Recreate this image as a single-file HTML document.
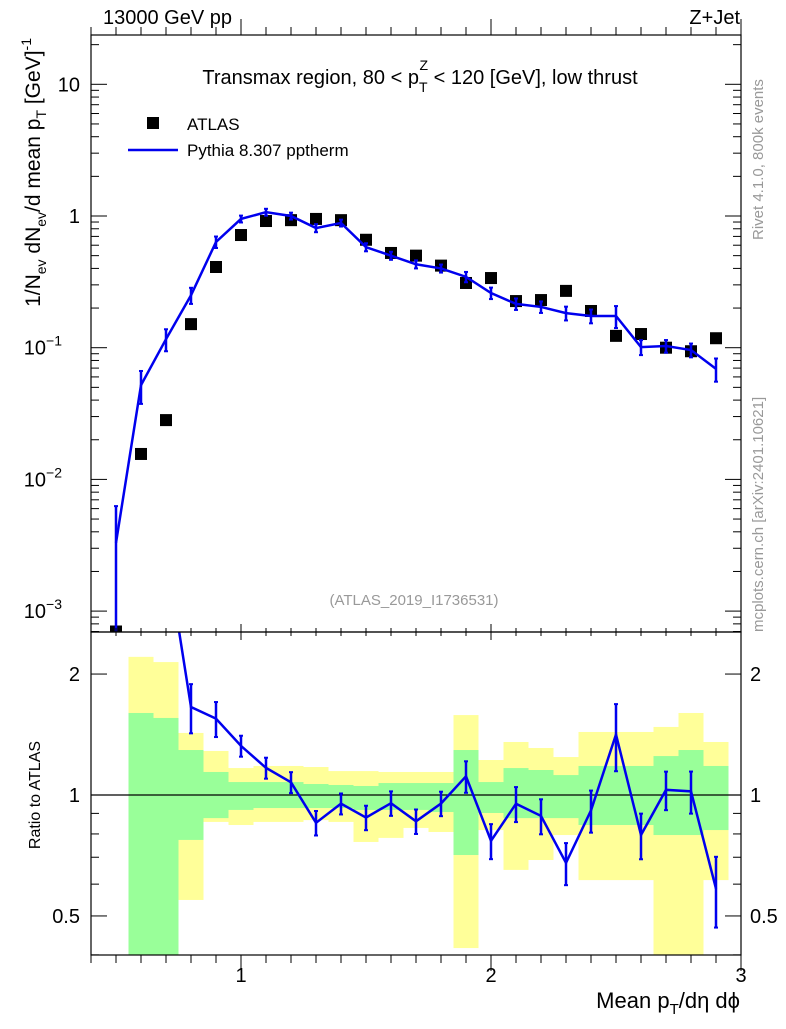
<!DOCTYPE html>
<html><head><meta charset="utf-8"><style>
body{margin:0;background:#fff;font-family:"Liberation Sans",sans-serif}
svg text{font-family:"Liberation Sans","DejaVu Sans",sans-serif}
</style></head><body>
<svg id="c" width="786" height="1024" xmlns="http://www.w3.org/2000/svg"></svg>
<script>
const xs=[0.5,0.6,0.7,0.8,0.9,1.0,1.1,1.2,1.3,1.4,1.5,1.6,1.7,1.8,1.9,2.0,2.1,2.2,2.3,2.4,2.5,2.6,2.7,2.8,2.9];
const dataVals=[0.0007,0.0156,0.0282,0.151,0.41,0.717,0.916,0.93,0.95,0.93,0.66,0.524,0.50,0.42,0.31,0.338,0.226,0.23,0.27,0.19,0.123,0.127,0.10,0.094,0.118];
const mcVals=[0.0033,0.052,0.116,0.25,0.635,0.95,1.07,1.0,0.81,0.885,0.58,0.50,0.43,0.40,0.345,0.26,0.215,0.204,0.183,0.174,0.174,0.101,0.103,0.096,0.069];
const mcRelErr=[0.9,0.28,0.19,0.14,0.1,0.06,0.06,0.06,0.07,0.06,0.07,0.07,0.07,0.07,0.09,0.1,0.1,0.1,0.12,0.12,0.19,0.13,0.11,0.12,0.2];
const yelUp=[null,2.207,2.142,1.427,1.287,1.167,1.181,1.181,1.174,1.147,1.147,1.141,1.141,1.141,1.581,1.222,1.355,1.309,1.243,1.435,1.435,1.435,1.477,1.6,1.355];
const yelLo=[null,0.3,0.475,0.548,0.857,0.842,0.857,0.857,0.866,0.857,0.764,0.782,0.828,0.809,0.416,0.818,0.651,0.689,0.795,0.614,0.614,0.614,0.35,0.35,0.614];
const grnUp=[null,1.6,1.555,1.294,1.141,1.077,1.077,1.077,1.065,1.059,1.053,1.071,1.071,1.071,1.294,1.077,1.167,1.154,1.121,1.181,1.181,1.181,1.25,1.294,1.181];
const grnLo=[null,0.3,0.3,0.773,0.876,0.918,0.928,0.928,0.928,0.928,0.918,0.918,0.918,0.907,0.709,0.902,0.876,0.876,0.876,0.842,0.842,0.842,0.795,0.795,0.818];
const xTicks=[1,2,3];
const yTicks=[0.001,0.01,0.1,1,10];
const yTickLabels=[["10","−3"],["10","−2"],["10","−1"],["1",null],["10",null]];
const rTicks=[0.5,1,2];

const S=document.getElementById('c'),NS='http://www.w3.org/2000/svg';
const L=91,R=741,T1=35,B1=632,T2=632,B2=955;
const X=v=>L+(v-0.4)/2.6*(R-L);
const Y=v=>216-Math.log10(v)*131.7;
const YR=v=>795-Math.log10(v)*401.8;
const RMAX=2.545;
function el(tag,a,name,parent){const e=document.createElementNS(NS,tag);for(const k in a)e.setAttribute(k,a[k]);


(parent||S).appendChild(e);return e;}
function txt(x,y,s,a,name){const t=el('text',Object.assign({x:x,y:y,'font-size':20},a||{}),name);t.textContent=s;return t;}
const defs=el('defs',{},'defs');
const c1=el('clipPath',{id:'c1'},'clip-main',defs);el('rect',{x:L,y:T1,width:R-L,height:B1-T1},'clip-rect',c1);
const c2=el('clipPath',{id:'c2'},'clip-ratio',defs);el('rect',{x:L,y:T2,width:R-L,height:B2-T2},'clip-rect',c2);
const g1=el('g',{'clip-path':'url(#c1)'},'main-plot');
const g2=el('g',{'clip-path':'url(#c2)'},'ratio-plot');
xs.forEach((x,i)=>{if(yelUp[i]==null)return;const x0=X(x-0.05),x1=X(x+0.05);
el('rect',{x:x0,y:YR(yelUp[i]),width:x1-x0,height:YR(yelLo[i])-YR(yelUp[i]),fill:'#ffff99'},'ratio-band-total',g2);
el('rect',{x:x0,y:YR(grnUp[i]),width:x1-x0,height:YR(grnLo[i])-YR(grnUp[i]),fill:'#99ff99'},'ratio-band-stat',g2);});
el('line',{x1:L,x2:R,y1:YR(1),y2:YR(1),stroke:'#000','stroke-width':1.2},'ratio-unity-line',g2);
xs.forEach((x,i)=>{el('rect',{x:X(x)-6,y:Y(dataVals[i])-6,width:12,height:12,fill:'#000'},'atlas-point',g1);});
el('polyline',{points:xs.map((x,i)=>X(x)+','+Y(mcVals[i])).join(' '),fill:'none',stroke:'#0000ee','stroke-width':2.5},'pythia-line',g1);
xs.forEach((x,i)=>{const v=mcVals[i],e=mcRelErr[i];
el('line',{x1:X(x),x2:X(x),y1:Y(v*(1+e)),y2:Y(Math.max(v*(1-e),1e-5)),stroke:'#0000ee','stroke-width':2.5},'pythia-error-bar',g1);
el('line',{x1:X(x)-2,x2:X(x)+2,y1:Y(v*(1+e)),y2:Y(v*(1+e)),stroke:'#0000ee','stroke-width':2},'pythia-error-cap',g1);
el('line',{x1:X(x)-2,x2:X(x)+2,y1:Y(Math.max(v*(1-e),1e-5)),y2:Y(Math.max(v*(1-e),1e-5)),stroke:'#0000ee','stroke-width':2},'pythia-error-cap',g1);});
const rat=xs.map((x,i)=>mcVals[i]/dataVals[i]);
el('polyline',{points:xs.map((x,i)=>X(x)+','+YR(rat[i])).join(' '),fill:'none',stroke:'#0000ee','stroke-width':2.5},'ratio-line',g2);
xs.forEach((x,i)=>{const v=rat[i],e=mcRelErr[i];if(v>RMAX)return;
el('line',{x1:X(x),x2:X(x),y1:YR(v*(1+e)),y2:YR(v*(1-e)),stroke:'#0000ee','stroke-width':2.5},'ratio-error-bar',g2);
[v*(1+e),v*(1-e)].forEach(w=>el('line',{x1:X(x)-2,x2:X(x)+2,y1:YR(w),y2:YR(w),stroke:'#0000ee','stroke-width':2},'ratio-error-cap',g2));});
el('rect',{x:L,y:T1,width:R-L,height:B1-T1,fill:'none',stroke:'#000','stroke-width':1.2},'main-frame');
el('rect',{x:L,y:T2,width:R-L,height:B2-T2,fill:'none',stroke:'#000','stroke-width':1.2},'ratio-frame');
for(let k=4;k<=30;k++){const v=k/10,maj=(k%10==0),len=maj?16:8,px=X(v);
[[B1,-1],[T1,1],[B2,-1],[T2,1]].forEach(([y,d])=>el('line',{x1:px,x2:px,y1:y,y2:y-d*len*(y==T2?0.5:1),stroke:'#000'},'x-tick'));}
xTicks.forEach(v=>txt(X(v),982,String(v),{'text-anchor':'middle'},'x-tick-label'));
for(let d=-4;d<=1;d++)for(let m=1;m<=9;m++){const v=m*Math.pow(10,d),py=Y(v);if(py<T1||py>B1)continue;const len=m==1?16:8;
el('line',{x1:L,x2:L+len,y1:py,y2:py,stroke:'#000'},'y-tick');el('line',{x1:R,x2:R-len,y1:py,y2:py,stroke:'#000'},'y-tick');}
yTicks.forEach((v,i)=>{const [b,e]=yTickLabels[i];const t=txt(e?62:80,Y(v)+7,b,{'text-anchor':'end'},'y-tick-label');
if(e){const s=document.createElementNS(NS,'tspan');s.setAttribute('dy',-9);s.setAttribute('font-size',14);s.textContent=e;t.appendChild(s);}});
[0.4,0.5,0.6,0.7,0.8,0.9,1,2].forEach(v=>{const py=YR(v),len=(v==0.5||v==1||v==2)?16:8;
el('line',{x1:L,x2:L+len,y1:py,y2:py,stroke:'#000'},'ratio-tick');el('line',{x1:R,x2:R-len,y1:py,y2:py,stroke:'#000'},'ratio-tick');});
rTicks.forEach(v=>{txt(80,YR(v)+7,String(v),{'text-anchor':'end'},'ratio-tick-label-left');txt(750,YR(v)+7,String(v),{},'ratio-tick-label-right');});
txt(103,24,'13000 GeV pp',{},'energy-label');
txt(740,24,'Z+Jet',{'text-anchor':'end'},'process-label');
const tt=txt(420,84,'',{'text-anchor':'middle'},'plot-title');
tt.innerHTML='Transmax region, 80 &lt; p<tspan dy="8" font-size="14">T</tspan><tspan dy="-22" dx="-8" font-size="14">Z</tspan><tspan dy="14"> &lt; 120 [GeV], low thrust</tspan>';
el('rect',{x:147,y:117,width:12,height:12,fill:'#000'},'legend-atlas-marker');
txt(187,130,'ATLAS',{'font-size':17},'legend-atlas-label');
el('line',{x1:128,x2:178,y1:150,y2:150,stroke:'#0000ee','stroke-width':2.5},'legend-pythia-line');
txt(187,156,'Pythia 8.307 pptherm',{'font-size':17},'legend-pythia-label');
txt(414,605,'(ATLAS_2019_I1736531)',{'text-anchor':'middle','font-size':15,fill:'#999'},'analysis-id');
const yl=txt(0,0,'',{transform:'translate(40,38) rotate(-90)','text-anchor':'end','font-size':21},'y-axis-title');
yl.innerHTML='1/N<tspan dy="6" font-size="14">ev</tspan><tspan dy="-6"> dN</tspan><tspan dy="6" font-size="14">ev</tspan><tspan dy="-6">/d mean p</tspan><tspan dy="6" font-size="14">T</tspan><tspan dy="-6"> [GeV]</tspan><tspan dy="-9" font-size="14">-1</tspan>';
txt(0,0,'Ratio to ATLAS',{transform:'translate(40,795) rotate(-90)','text-anchor':'middle','font-size':16},'ratio-axis-title');
const xl=txt(740,1008,'',{'text-anchor':'end','font-size':22},'x-axis-title');
xl.innerHTML='Mean p<tspan dy="6" font-size="15">T</tspan><tspan dy="-6">/dη dϕ</tspan>';
txt(0,0,'Rivet 4.1.0,  800k events',{transform:'translate(763,240) rotate(-90)','font-size':15,fill:'#999'},'rivet-label');
txt(0,0,'mcplots.cern.ch [arXiv:2401.10621]',{transform:'translate(763,632) rotate(-90)','font-size':15,fill:'#999'},'mcplots-label');
</script>
</body></html>
